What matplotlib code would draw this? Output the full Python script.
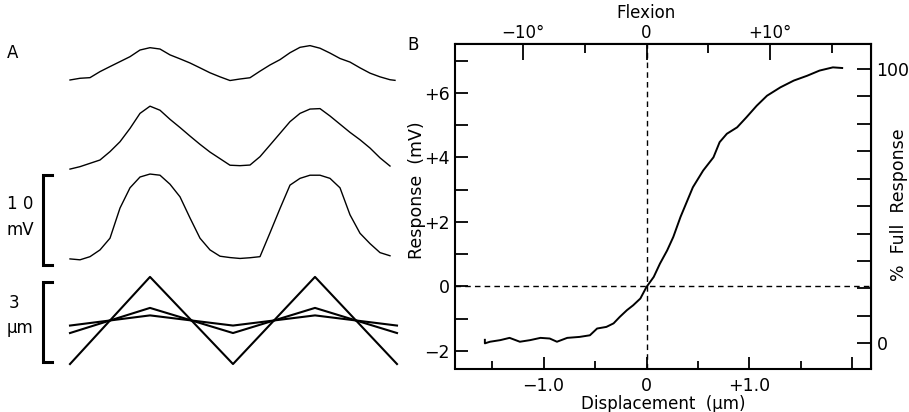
import numpy as np
import matplotlib.pyplot as plt

plt.rcParams['font.family'] = ['DejaVu Sans']

# ---------------- Panel A data ----------------
# sample times along the traces (arbitrary units, one cycle ~ 163)
t_resp = [0, 10, 20, 30, 40, 50, 60, 70, 80, 90, 100, 110, 120, 130, 140, 150,
          160, 170, 180, 190, 200, 210, 220, 230, 240, 250, 260, 270, 280, 290,
          300, 310, 320]
# receptor potential traces, mV above trough
trace1_mv = [0.11, 0.30, 0.37, 1.04, 1.60, 2.15, 2.70, 3.44, 3.70, 3.55, 2.90,
             2.46, 2.00, 1.46, 0.91, 0.46, 0.05, 0.22, 0.36, 1.09, 1.78, 2.37,
             3.14, 3.74, 3.93, 3.64, 3.10, 2.50, 2.10, 1.46, 0.87, 0.46, 0.14]
trace2_mv = [-0.34, -0.07, 0.30, 0.67, 1.60, 2.70, 4.18, 5.85, 6.65, 6.20, 5.19,
             4.28, 3.33, 2.41, 1.55, 0.82, 0.09, 0.04, 0.11, 1.04, 2.33, 3.63,
             4.93, 5.85, 6.33, 6.38, 5.56, 4.65, 3.74, 2.92, 2.00, 0.91, 0.00]
trace3_mv = [-0.10, -0.20, 0.15, 0.90, 2.20, 5.55, 7.80, 9.00, 9.33, 9.20, 8.20,
             6.80, 4.45, 2.20, 0.90, 0.20, 0.05, -0.05, 0.03, 0.15, 2.80, 5.50,
             8.10, 8.85, 9.20, 9.20, 8.85, 7.80, 4.80, 2.75, 1.60, 0.60, 0.25]
# triangular displacement stimuli (um)
t_stim = [0, 80, 163, 245, 327]
stim_big_um = [-1.63, 1.63, -1.63, 1.63, -1.63]
stim_mid_um = [-0.47, 0.47, -0.47, 0.47, -0.47]
stim_small_um = [-0.19, 0.19, -0.19, 0.19, -0.19]

# ---------------- Panel B data ----------------
disp_um = [-1.57, -1.57, -1.52, -1.42, -1.33, -1.23, -1.13, -1.03, -0.94, -0.87,
           -0.77, -0.65, -0.55, -0.48, -0.39, -0.32, -0.26, -0.19, -0.13, -0.06,
           0.00, 0.07, 0.13, 0.20, 0.26, 0.33, 0.39, 0.45, 0.55, 0.65, 0.71,
           0.78, 0.88, 0.97, 1.07, 1.17, 1.30, 1.43, 1.56, 1.68, 1.81, 1.90]
resp_mv = [-1.66, -1.77, -1.72, -1.67, -1.60, -1.72, -1.67, -1.60, -1.62, -1.72,
           -1.60, -1.57, -1.52, -1.31, -1.26, -1.15, -0.95, -0.74, -0.59, -0.38,
           -0.02, 0.29, 0.70, 1.11, 1.53, 2.15, 2.61, 3.07, 3.59, 4.00, 4.47,
           4.73, 4.93, 5.24, 5.60, 5.91, 6.17, 6.38, 6.53, 6.69, 6.79, 6.77]
pct_zero_mv = -1.77     # 0 % full response
pct_full_mv = 6.74      # 100 % full response
deg_per_um = 8.35       # flexion scale on the top axis

fig = plt.figure(figsize=(9.09, 4.12), dpi=100)

def ftext(x, y, s, **kw):
    # place text using pixel coords from the top-left corner
    fig.text(x / 909, 1 - y / 412, s, va='center', **kw)

# ---------------- Panel A ----------------
axa = fig.add_axes([0, 0, 430 / 909, 1])
axa.set_xlim(-70, 360)
axa.set_ylim(0, 412 / 9)
axa.axis('off')

off1, off2, off3, off_stim = 36.78, 27.33, 17.11, 10.17
um = 2.97  # vertical units per um in this panel

axa.plot(t_resp + [325], np.array(trace1_mv + [0.07]) + off1, color='k', lw=1.0)
axa.plot(t_resp, np.array(trace2_mv) + off2, color='k', lw=1.0)
axa.plot(t_resp, np.array(trace3_mv) + off3, color='k', lw=1.0)
for s in (stim_big_um, stim_mid_um, stim_small_um):
    axa.plot(t_stim, np.array(s) * um + off_stim, color='k', lw=1.5)

# scale bars
b0 = off3 - 0.8
axa.plot([-18, -27, -27, -18], [b0, b0, b0 + 10, b0 + 10], color='k', lw=2.2,
         solid_joinstyle='miter')
b1 = off_stim - 1.55 * um
axa.plot([-18, -27, -27, -18], [b1, b1, b1 + 3 * um, b1 + 3 * um], color='k',
         lw=2.2, solid_joinstyle='miter')

ftext(7, 53, 'A', fontsize=12)
ftext(7, 204, '1 0', fontsize=12)
ftext(7, 230, 'mV', fontsize=12)
ftext(9, 303, '3', fontsize=12)
ftext(7, 328, 'μm', fontsize=12)
ftext(407, 45, 'B', fontsize=12)

# ---------------- Panel B ----------------
axb = fig.add_axes([455 / 909, 43.5 / 412, 416 / 909, 325 / 412])
axb.plot(disp_um, resp_mv, color='k', lw=1.4)
axb.axhline(0, color='k', lw=1.0, ls=(0, (4, 3)))
axb.axvline(0, color='k', lw=1.0, ls=(0, (4, 3)))
axb.set_xlim(-1.86, 2.18)
axb.set_ylim(-2.55, 7.53)
for sp in axb.spines.values():
    sp.set_linewidth(1.5)

axb.set_xticks([-1.0, 0, 1.0, 2.0])
axb.set_xticklabels(['−1.0', '0', '+1.0', ''])
axb.set_xticks([-1.5, -0.5, 0.5, 1.5], minor=True)
axb.set_yticks([-2, 0, 2, 4, 6])
axb.set_yticklabels(['−2', '0', '+2', '+4', '+6'])
axb.set_yticks([-1, 1, 3, 5, 7], minor=True)
axb.tick_params(which='both', direction='in', width=1.3, labelsize=12.5,
                right=False, top=False)
axb.tick_params(axis='x', which='major', length=9, pad=6)
axb.tick_params(axis='x', which='minor', length=6)
axb.tick_params(axis='y', which='both', length=9, pad=4)
axb.set_xlabel('Displacement  (μm)', fontsize=12, labelpad=0)
ftext(417, 190, 'Response  (mV)', fontsize=12.5, rotation=90, ha='center')

top = axb.secondary_xaxis('top', functions=(lambda x: x * deg_per_um,
                                            lambda d: d / deg_per_um))
top.set_xticks([-10, 0, 10])
top.set_xticklabels(['−10°', '0', '+10°'])
top.set_xticks([-5, 5, 15], minor=True)
top.tick_params(which='both', direction='in', width=1.3, labelsize=12, pad=1)
top.tick_params(which='major', length=12)
top.tick_params(which='minor', length=7)
ftext(646, 13, 'Flexion', fontsize=12, ha='center')

span = pct_full_mv - pct_zero_mv
right = axb.secondary_yaxis('right', functions=(
    lambda v: (v - pct_zero_mv) / span * 100,
    lambda p: pct_zero_mv + p / 100 * span))
right.set_yticks([0, 100])
right.set_yticklabels(['0', '100'])
right.set_yticks([10, 20, 30, 40, 50, 60, 70, 80, 90], minor=True)
right.tick_params(which='both', direction='in', width=1.3, length=10,
                  labelsize=12.5, pad=4)
ftext(899, 205, '%  Full  Response', fontsize=12.5, rotation=90, ha='center')

fig.savefig('out.png', dpi=100)
